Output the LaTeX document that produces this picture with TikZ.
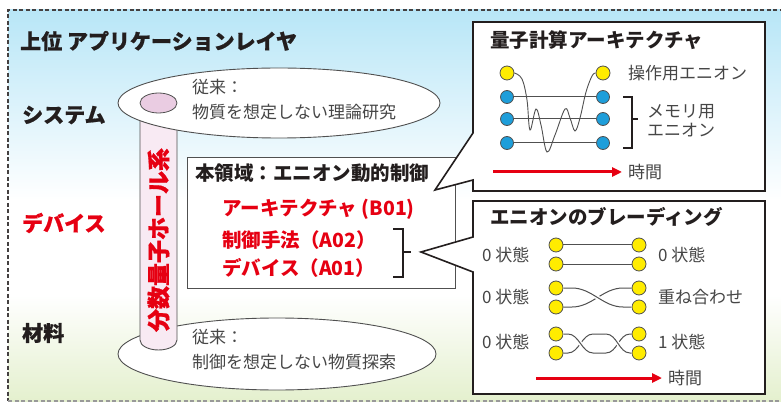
\documentclass[tikz,border=0pt]{standalone}
\usepackage{fontspec}
\newfontfamily\jp{Noto Sans CJK JP}
\newfontfamily\jphead[FakeBold=0.8]{Noto Sans CJK JP}
\usetikzlibrary{arrows.meta,calc,shapes.geometric}
\definecolor{jred}{RGB}{230,0,18}
\definecolor{ink}{RGB}{35,30,30}
\definecolor{txtgray}{RGB}{70,70,70}
\definecolor{skyblue}{RGB}{184,230,247}
\definecolor{leaf}{RGB}{228,240,206}
\definecolor{anyonblue}{RGB}{30,158,218}
\definecolor{anyonyellow}{RGB}{255,236,0}
\definecolor{pillarpink}{RGB}{248,234,243}
\definecolor{capmauve}{RGB}{234,204,226}
\definecolor{edge}{RGB}{80,80,80}

\begin{document}
\begin{tikzpicture}[x=1pt,y=-1pt,
  layer/.style={anchor=west, inner sep=0pt, font=\jphead\bfseries\fontsize{21}{21}\selectfont, text=ink},
  note/.style={anchor=west, inner sep=0pt, align=left, text=txtgray, font=\jp\fontsize{17}{25}\selectfont},
  boxtitle/.style={anchor=west, inner sep=0pt, text=ink, font=\jp\bfseries\fontsize{19.5}{20}\selectfont},
  theme/.style={anchor=west, inner sep=0pt, text=jred, font=\jp\bfseries\fontsize{19.5}{20}\selectfont},
  state/.style={anchor=west, inner sep=0pt, text=txtgray, align=left, font=\jp\fontsize{17}{19}\selectfont},
  disc/.style={ellipse, draw=edge, line width=0.9pt, fill=white, inner sep=0pt},
  anyonB/.style={circle, draw=edge, line width=0.8pt, fill=anyonblue, minimum size=13pt, inner sep=0pt},
  anyonY/.style={circle, draw=edge, line width=0.8pt, fill=anyonyellow, minimum size=14pt, inner sep=0pt},
  wire/.style={draw=edge, line width=1pt},
  over/.style={wire, preaction={draw=white, line width=4pt}},
  callout/.style={draw=ink, line width=1.6pt, fill=white, line join=miter},
  timearrow/.style={draw=jred, line width=3pt, -{Triangle[length=10pt,width=9pt]}},
  bracket/.style={draw=ink, line width=1.4pt},
]
\useasboundingbox (0,0) rectangle (781,403);

% background bands: sky, white, leaf
\fill[white] (0,0) rectangle (781,403);
\shade[top color=skyblue, bottom color=white] (8,10) rectangle (790,200);
\fill[white] (8,200) rectangle (790,295);
\shade[top color=white, bottom color=leaf] (8,295) rectangle (790,401);

% dashed outer frame
\draw[ink!85, line width=1.4pt, dash pattern=on 4pt off 2.5pt] (790,10) -- (8,10) -- (8,401);
\draw[black!40, line width=1.4pt, dash pattern=on 4pt off 2.5pt] (8,401) -- (790,401);

% headings
\node[layer] (apps) at (20,41) {上位 アプリケーションレイヤ};
\node[layer] (sys) at (22,115) {システム};
\node[layer, text=jred] (dev) at (22,223) {デバイス};
\node[layer] (mat) at (22,333) {材料};

% bottom disc, pillar, top disc
\node[disc, minimum width=318pt, minimum height=72pt] (lowdisc) at (277,354) {};
\draw[edge, fill=pillarpink, line width=0.9pt]
  (140,103) -- (140,340) arc[start angle=180, end angle=0, x radius=18.5, y radius=10] -- (177,103);
\node[disc, minimum width=322pt, minimum height=70pt] (topdisc) at (279,103) {};
\node[ellipse, draw=edge, line width=0.8pt, fill=capmauve, minimum width=37pt, minimum height=20pt, inner sep=0pt] (cap) at (158.5,103) {};
\node[rotate=90, inner sep=0pt, text=jred, font=\jphead\bfseries\fontsize{23}{23}\selectfont] (fqh) at (158.5,240) {分数量子ホール系};

\node[note] (topnote) at (192,100) {従来：\\物質を想定しない理論研究};
\node[note] (lownote) at (192,350) {従来：\\制御を想定しない物質探索};

% central box
\node[draw=edge, fill=white, line width=1pt, minimum width=268pt, minimum height=131pt, inner sep=0pt, anchor=north west] (core) at (187,157) {};
\node[boxtitle] (coretitle) at (195,173) {本領域：エニオン動的制御};
\node[theme] (b01) at (222,209) {アーキテクチャ (B01)};
\node[theme] (a02) at (222,240) {制御手法（A02）};
\node[theme] (a01) at (222,268) {デバイス（A01）};
\draw[bracket] (393,229) -- (403,229) -- (403,277) -- (393,277);
\draw[bracket] (403,252) -- (411,252);

% callout: quantum computing architecture
\draw[callout] (473,22) -- (765,22) -- (765,191) -- (473,191) -- (473,180) -- (435,190) -- (473,133) -- cycle;
\node[boxtitle] (qctitle) at (490,40) {量子計算アーキテクチャ};
\node[anyonY] (ya) at (507,73) {};
\node[anyonY] (yb) at (603,73) {};
\foreach \r/\y in {1/97, 2/119, 3/143} {
  \node[anyonB] (ma\r) at (507,\y) {};
  \node[anyonB] (mb\r) at (603,\y) {};
  \draw[wire] (ma\r.east) -- (mb\r.west);
}
\draw[wire, line width=0.9pt] plot[smooth, tension=0.6] coordinates {
  (ya.east) (522,79) (527,100) (530,130) (536,109) (541,125) (547,152)
  (555,135) (565,109) (570,118) (575,131) (580,118) (586,92) (592,76) (yb.west)};
\node[state] (oplbl) at (628,73) {操作用エニオン};
\node[state] (memlbl) at (647,121) {メモリ用\\エニオン};
\draw[bracket] (623,97) -- (632,97) -- (632,148) -- (623,148);
\draw[bracket] (632,119) -- (638,119);
\node[state] (qctime) at (628,172) {時間};
\coordinate (qct0) at (493,172);
\draw[timearrow] (qct0) -- ([xshift=-6pt]qctime.west);

% callout: anyon braiding
\draw[callout] (473,201) -- (765,201) -- (765,394) -- (473,394) -- (473,272) -- (421,252) -- (473,237) -- cycle;
\node[boxtitle] (brtitle) at (490,217) {エニオンのブレーディング};
\foreach \r/\yt/\yb in {1/245/264, 2/288/307, 3/334/353} {
  \node[anyonY] (tl\r) at (556,\yt) {};
  \node[anyonY] (bl\r) at (556,\yb) {};
  \node[anyonY] (tr\r) at (639,\yt) {};
  \node[anyonY] (br\r) at (639,\yb) {};
}
% no braiding
\draw[wire] (tl1.east) -- (tr1.west);
\draw[wire] (bl1.east) -- (br1.west);
% one exchange
\draw[wire] (bl2.east) -- (572,307) .. controls (592,307) and (603,288) .. (623,288) -- (tr2.west);
\draw[over] (tl2.east) -- (572,288) .. controls (592,288) and (603,307) .. (623,307) -- (br2.west);
% two exchanges
\draw[wire] (bl3.east) -- (568,353) .. controls (579,353) and (582,334) .. (593,334) -- (606,334);
\draw[over] (tl3.east) -- (568,334) .. controls (579,334) and (582,353) .. (593,353) -- (606,353);
\draw[wire] (606,353) .. controls (617,353) and (619,334) .. (630,334) -- (tr3.west);
\draw[over] (606,334) .. controls (617,334) and (619,353) .. (630,353) -- (br3.west);

\node[state] (s1l) at (482,255) {0 状態};
\node[state] (s2l) at (482,297) {0 状態};
\node[state] (s3l) at (482,342) {0 状態};
\node[state] (s1r) at (658,255) {0 状態};
\node[state] (s2r) at (658,297) {重ね合わせ};
\node[state] (s3r) at (658,342) {1 状態};
\node[state] (brtime) at (668,378) {時間};
\coordinate (brt0) at (536,378);
\draw[timearrow] (brt0) -- ([xshift=-6pt]brtime.west);
\end{tikzpicture}
\end{document}
